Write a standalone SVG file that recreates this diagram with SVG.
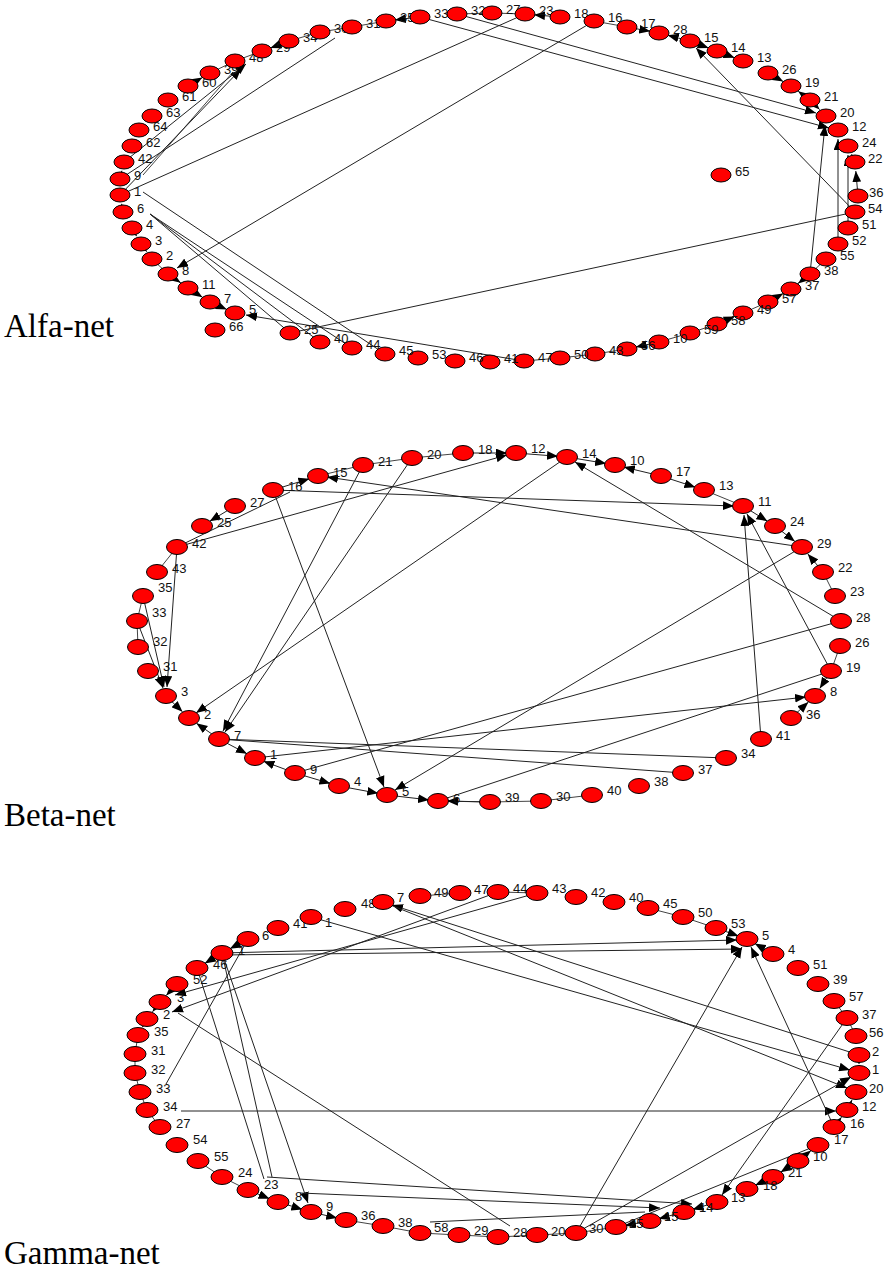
<svg xmlns="http://www.w3.org/2000/svg" width="884" height="1273" viewBox="0 0 884 1273">
<style>
.n{fill:#ff0000;stroke:#000;stroke-width:1}
.l{font-family:"Liberation Sans",Arial,sans-serif;font-size:13px;fill:#111}
.t{font-family:"Liberation Serif","Times New Roman",serif;font-size:33px;fill:#000}
.e{stroke:#222;stroke-width:1;fill:none}
.r{stroke:#444;stroke-width:1;fill:none}
.a{marker-end:url(#ah)}
</style>
<defs>
<marker id="ah" viewBox="0 0 10 8" refX="10" refY="4" markerWidth="11" markerHeight="9" markerUnits="userSpaceOnUse" orient="auto"><path d="M0,0L10,4L0,8z" fill="#000"/></marker>
</defs>
<rect width="884" height="1273" fill="#fff"/>
<text class="t" x="4" y="337">Alfa-net</text>
<text class="t" x="4" y="826">Beta-net</text>
<text class="t" x="4" y="1264">Gamma-net</text>

<g id="connectors">
<!-- Alfa -->
<line class="r" x1="352" y1="27" x2="386" y2="21"/><line class="r" x1="320" y1="32" x2="352" y2="27"/><line class="r" x1="289" y1="41" x2="320" y2="32"/>
<line class="r" x1="262" y1="51" x2="235" y2="61"/><line class="r" x1="235" y1="61" x2="210" y2="73"/><line class="r" x1="152" y1="259" x2="168" y2="274"/>
<line class="r" x1="168" y1="274" x2="188" y2="288"/><line class="r" x1="524" y1="361" x2="560" y2="358"/><line class="r" x1="560" y1="358" x2="595" y2="354"/>
<line class="r" x1="595" y1="354" x2="627" y2="349"/><line class="r" x1="690" y1="333" x2="659" y2="342"/><line class="r" x1="717" y1="324" x2="690" y2="333"/>
<line class="r" x1="743" y1="313" x2="768" y2="302"/><line class="r" x1="791" y1="289" x2="810" y2="274"/><line class="r" x1="810" y1="274" x2="826" y2="259"/>
<line class="r" x1="594" y1="21" x2="627" y2="27"/><line class="r" x1="457" y1="14" x2="492" y2="13"/><line class="r" x1="492" y1="13" x2="525" y2="14"/>
<line class="r" x1="143" y1="175" x2="233" y2="72"/>
<line class="e a" x1="457" y1="14" x2="816" y2="113"/>
<line class="e a" x1="420" y1="17" x2="829" y2="128"/>
<line class="e" x1="120" y1="195" x2="525" y2="14"/>
<line class="e a" x1="594" y1="21" x2="177" y2="268"/>
<line class="e a" x1="120" y1="195" x2="241" y2="69"/>
<line class="e a" x1="124" y1="162" x2="246" y2="64"/>
<line class="e" x1="120" y1="179" x2="335" y2="38"/>
<line class="e" x1="150" y1="214" x2="290" y2="333"/>
<line class="e" x1="150" y1="214" x2="320" y2="342"/>
<line class="e" x1="150" y1="214" x2="352" y2="348"/>
<line class="e" x1="143" y1="192" x2="385" y2="354"/>
<line class="e a" x1="524" y1="361" x2="246" y2="315"/>
<line class="e" x1="290" y1="333" x2="855" y2="212"/>
<line class="e a" x1="810" y1="274" x2="825" y2="125"/>
<line class="e a" x1="855" y1="212" x2="696" y2="48"/>
<line class="e a" x1="838" y1="244" x2="838" y2="139"/>
<line class="e a" x1="848" y1="228" x2="848" y2="155"/>
<line class="e a" x1="123" y1="212" x2="121.6" y2="203.8"/>
<line class="e a" x1="120" y1="195" x2="120" y2="188"/>
<line class="e a" x1="120" y1="179" x2="121.9" y2="170.7"/>
<line class="e a" x1="132" y1="228" x2="136.6" y2="236.2"/>
<line class="e a" x1="141" y1="244" x2="146.7" y2="251.7"/>
<line class="e a" x1="168" y1="274" x2="180.6" y2="282.8"/>
<line class="e a" x1="188" y1="288" x2="202.4" y2="297.2"/>
<line class="e a" x1="210" y1="302" x2="226.8" y2="309.4"/>
<line class="e a" x1="188" y1="86" x2="202.3" y2="77.6"/>
<line class="e a" x1="289" y1="41" x2="270.4" y2="47.9"/>
<line class="e a" x1="420" y1="17" x2="394.9" y2="19.9"/>
<line class="e a" x1="560" y1="17" x2="534" y2="14.8"/>
<line class="e a" x1="627" y1="27" x2="650.2" y2="31.3"/>
<line class="e a" x1="690" y1="41" x2="667.7" y2="35.3"/>
<line class="e a" x1="690" y1="41" x2="708.6" y2="47.9"/>
<line class="e a" x1="717" y1="51" x2="734.6" y2="57.8"/>
<line class="e a" x1="768" y1="73" x2="783.2" y2="81.6"/>
<line class="e a" x1="810" y1="100" x2="798.2" y2="91.3"/>
<line class="e a" x1="810" y1="100" x2="819.6" y2="109.6"/>
<line class="e a" x1="855" y1="162" x2="851.6" y2="154.2"/>
<line class="e a" x1="858" y1="196" x2="855.8" y2="171"/>
<line class="e a" x1="810" y1="274" x2="798.1" y2="283.4"/>
<line class="e a" x1="768" y1="302" x2="783.2" y2="293.4"/>
<line class="e a" x1="717" y1="324" x2="734.7" y2="316.5"/>
<line class="e a" x1="659" y1="342" x2="635.8" y2="347.1"/>
<!-- Beta -->
<line class="r" x1="412" y1="458" x2="463" y2="453"/><line class="r" x1="363" y1="465" x2="412" y2="458"/><line class="r" x1="318" y1="476" x2="363" y2="465"/>
<line class="r" x1="157" y1="572" x2="177" y2="547"/><line class="r" x1="137" y1="621" x2="143" y2="596"/><line class="r" x1="138" y1="647" x2="137" y2="621"/>
<line class="r" x1="704" y1="490" x2="743" y2="506"/><line class="r" x1="835" y1="596" x2="823" y2="572"/><line class="r" x1="840" y1="646" x2="831" y2="671"/>
<line class="r" x1="490" y1="802" x2="541" y2="801"/><line class="r" x1="541" y1="801" x2="592" y2="795"/><line class="r" x1="438" y1="801" x2="490" y2="802"/>
<line class="e a" x1="273" y1="490" x2="734" y2="506"/>
<line class="e a" x1="802" y1="547" x2="327" y2="477"/>
<line class="e a" x1="177" y1="547" x2="507" y2="455"/>
<line class="e" x1="177" y1="547" x2="290" y2="492"/>
<line class="e a" x1="177" y1="547" x2="167" y2="687"/>
<line class="e a" x1="143" y1="596" x2="164" y2="687"/>
<line class="e a" x1="137" y1="621" x2="163" y2="688"/>
<line class="e a" x1="363" y1="465" x2="223" y2="731"/>
<line class="e a" x1="412" y1="458" x2="225" y2="732"/>
<line class="e a" x1="273" y1="490" x2="384" y2="787"/>
<line class="e a" x1="567" y1="457" x2="196" y2="713"/>
<line class="e a" x1="841" y1="621" x2="575" y2="462"/>
<line class="e a" x1="802" y1="547" x2="395" y2="790"/>
<line class="e a" x1="761" y1="739" x2="744" y2="515"/>
<line class="e a" x1="831" y1="671" x2="747" y2="514"/>
<line class="e" x1="841" y1="621" x2="295" y2="773"/>
<line class="e a" x1="255" y1="758" x2="806" y2="697"/>
<line class="e" x1="219" y1="739" x2="726" y2="758"/>
<line class="e" x1="219" y1="739" x2="683" y2="773"/>
<line class="e" x1="831" y1="671" x2="438" y2="801"/>
<line class="e a" x1="463" y1="453" x2="507" y2="453"/>
<line class="e a" x1="516" y1="453" x2="558" y2="456.3"/>
<line class="e a" x1="567" y1="457" x2="606.1" y2="463.5"/>
<line class="e a" x1="661" y1="476" x2="623.8" y2="467.1"/>
<line class="e a" x1="661" y1="476" x2="695.4" y2="487.2"/>
<line class="e a" x1="743" y1="506" x2="767.4" y2="521.2"/>
<line class="e a" x1="775" y1="526" x2="794.9" y2="541.5"/>
<line class="e a" x1="823" y1="572" x2="807.8" y2="553.9"/>
<line class="e a" x1="831" y1="671" x2="819.8" y2="688.4"/>
<line class="e a" x1="791" y1="718" x2="808.4" y2="702.1"/>
<line class="e a" x1="273" y1="490" x2="309.4" y2="478.7"/>
<line class="e a" x1="235" y1="506" x2="209.7" y2="521.3"/>
<line class="e a" x1="166" y1="696" x2="182.5" y2="711.8"/>
<line class="e a" x1="219" y1="739" x2="196.4" y2="723.2"/>
<line class="e a" x1="219" y1="739" x2="247" y2="753.8"/>
<line class="e a" x1="295" y1="773" x2="263.4" y2="761.2"/>
<line class="e a" x1="295" y1="773" x2="330.4" y2="783.5"/>
<line class="e a" x1="339" y1="786" x2="378.2" y2="793.3"/>
<line class="e a" x1="387" y1="795" x2="429.1" y2="799.9"/>
<line class="e a" x1="490" y1="802" x2="447" y2="801"/>
<!-- Gamma -->
<line class="r" x1="420" y1="896" x2="460" y2="893"/><line class="r" x1="498" y1="892" x2="537" y2="893"/><line class="r" x1="648" y1="908" x2="683" y2="917"/>
<line class="r" x1="683" y1="917" x2="716" y2="928"/><line class="r" x1="198" y1="1161" x2="222" y2="1177"/><line class="r" x1="222" y1="1177" x2="248" y2="1190"/>
<line class="r" x1="346" y1="1220" x2="383" y2="1226"/><line class="r" x1="383" y1="1226" x2="420" y2="1233"/><line class="r" x1="420" y1="1233" x2="459" y2="1235"/>
<line class="r" x1="459" y1="1235" x2="498" y2="1237"/><line class="r" x1="498" y1="1237" x2="537" y2="1235"/><line class="r" x1="537" y1="1235" x2="576" y2="1233"/>
<line class="r" x1="576" y1="1233" x2="616" y2="1227"/><line class="r" x1="834" y1="1001" x2="847" y2="1018"/><line class="r" x1="847" y1="1018" x2="856" y2="1036"/>
<line class="r" x1="135" y1="1054" x2="135" y2="1073"/><line class="r" x1="135" y1="1073" x2="140" y2="1092"/><line class="r" x1="140" y1="1092" x2="147" y2="1110"/>
<line class="r" x1="147" y1="1110" x2="160" y2="1127"/><line class="r" x1="138" y1="1035" x2="135" y2="1054"/>
<line class="e a" x1="222" y1="953" x2="737" y2="940"/>
<line class="e a" x1="222" y1="955" x2="742" y2="949"/>
<line class="e a" x1="859" y1="1055" x2="392" y2="905"/>
<line class="e a" x1="383" y1="902" x2="847" y2="1088"/>
<line class="e a" x1="311" y1="917" x2="850" y2="1070"/>
<line class="e a" x1="181" y1="1111" x2="836" y2="1111"/>
<line class="e" x1="197" y1="968" x2="264" y2="1179"/>
<line class="e" x1="222" y1="953" x2="272" y2="1177"/>
<line class="e a" x1="222" y1="953" x2="308" y2="1203"/>
<line class="e" x1="248" y1="939" x2="166" y2="1084"/>
<line class="e a" x1="498" y1="892" x2="172" y2="1012"/>
<line class="e a" x1="537" y1="893" x2="175" y2="995"/>
<line class="e" x1="178" y1="1013" x2="510" y2="1226"/>
<line class="e a" x1="576" y1="1233" x2="742" y2="947"/>
<line class="e a" x1="834" y1="1127" x2="751" y2="947"/>
<line class="e a" x1="847" y1="1018" x2="722" y2="1195"/>
<line class="e a" x1="576" y1="1233" x2="851" y2="1077"/>
<line class="e" x1="616" y1="1227" x2="818" y2="1145"/>
<line class="e a" x1="300" y1="1193" x2="660" y2="1208"/>
<line class="e a" x1="267" y1="1177" x2="692" y2="1204"/>
<line class="e" x1="430" y1="1222" x2="645" y2="1212"/>
<line class="e a" x1="248" y1="1190" x2="269.6" y2="1198.7"/>
<line class="e a" x1="278" y1="1202" x2="302.4" y2="1209.4"/>
<line class="e a" x1="311" y1="1212" x2="337.2" y2="1218"/>
<line class="e a" x1="650" y1="1221" x2="624.9" y2="1225.4"/>
<line class="e a" x1="684" y1="1212" x2="658.7" y2="1218.7"/>
<line class="e a" x1="717" y1="1202" x2="692.6" y2="1209.4"/>
<line class="e a" x1="773" y1="1177" x2="755.2" y2="1185.2"/>
<line class="e a" x1="798" y1="1161" x2="780.6" y2="1172.2"/>
<line class="e a" x1="798" y1="1161" x2="811" y2="1150.6"/>
<line class="e a" x1="773" y1="954" x2="754.8" y2="943.5"/>
<line class="e a" x1="716" y1="928" x2="738.5" y2="936"/>
<line class="e a" x1="248" y1="939" x2="229.9" y2="948.7"/>
<line class="e a" x1="222" y1="953" x2="204.7" y2="963.4"/>
<line class="e a" x1="177" y1="984" x2="166.2" y2="995.5"/>
<line class="e a" x1="160" y1="1002" x2="152.5" y2="1011.8"/>
<line class="e a" x1="147" y1="1019" x2="142.4" y2="1027.2"/>
<line class="e a" x1="834" y1="1127" x2="841.5" y2="1117.2"/>
<line class="e a" x1="847" y1="1110" x2="852" y2="1100"/>
<line class="e a" x1="859" y1="1055" x2="859" y2="1064"/>
</g>

<g id="alfa-nodes">
<g id="a66"><ellipse class="n" cx="215" cy="330" rx="10" ry="7"/><text class="l" x="229" y="331">66</text></g>
<g id="a5"><ellipse class="n" cx="235" cy="313" rx="10" ry="7"/><text class="l" x="249" y="314">5</text></g>
<g id="a7"><ellipse class="n" cx="210" cy="302" rx="10" ry="7"/><text class="l" x="224" y="303">7</text></g>
<g id="a11"><ellipse class="n" cx="188" cy="288" rx="10" ry="7"/><text class="l" x="202" y="289">11</text></g>
<g id="a8"><ellipse class="n" cx="168" cy="274" rx="10" ry="7"/><text class="l" x="182" y="275">8</text></g>
<g id="a2"><ellipse class="n" cx="152" cy="259" rx="10" ry="7"/><text class="l" x="166" y="260">2</text></g>
<g id="a3"><ellipse class="n" cx="141" cy="244" rx="10" ry="7"/><text class="l" x="155" y="245">3</text></g>
<g id="a4"><ellipse class="n" cx="132" cy="228" rx="10" ry="7"/><text class="l" x="146" y="229">4</text></g>
<g id="a6"><ellipse class="n" cx="123" cy="212" rx="10" ry="7"/><text class="l" x="137" y="213">6</text></g>
<g id="a1"><ellipse class="n" cx="120" cy="195" rx="10" ry="7"/><text class="l" x="134" y="196">1</text></g>
<g id="a9"><ellipse class="n" cx="120" cy="179" rx="10" ry="7"/><text class="l" x="134" y="180">9</text></g>
<g id="a42"><ellipse class="n" cx="124" cy="162" rx="10" ry="7"/><text class="l" x="138" y="163">42</text></g>
<g id="a62"><ellipse class="n" cx="132" cy="146" rx="10" ry="7"/><text class="l" x="146" y="147">62</text></g>
<g id="a64"><ellipse class="n" cx="139" cy="130" rx="10" ry="7"/><text class="l" x="153" y="131">64</text></g>
<g id="a63"><ellipse class="n" cx="152" cy="116" rx="10" ry="7"/><text class="l" x="166" y="117">63</text></g>
<g id="a61"><ellipse class="n" cx="168" cy="100" rx="10" ry="7"/><text class="l" x="182" y="101">61</text></g>
<g id="a60"><ellipse class="n" cx="188" cy="86" rx="10" ry="7"/><text class="l" x="202" y="87">60</text></g>
<g id="a39"><ellipse class="n" cx="210" cy="73" rx="10" ry="7"/><text class="l" x="224" y="74">39</text></g>
<g id="a48"><ellipse class="n" cx="235" cy="61" rx="10" ry="7"/><text class="l" x="249" y="62">48</text></g>
<g id="a29"><ellipse class="n" cx="262" cy="51" rx="10" ry="7"/><text class="l" x="276" y="52">29</text></g>
<g id="a34"><ellipse class="n" cx="289" cy="41" rx="10" ry="7"/><text class="l" x="303" y="42">34</text></g>
<g id="a30"><ellipse class="n" cx="320" cy="32" rx="10" ry="7"/><text class="l" x="334" y="33">30</text></g>
<g id="a31"><ellipse class="n" cx="352" cy="27" rx="10" ry="7"/><text class="l" x="366" y="28">31</text></g>
<g id="a35"><ellipse class="n" cx="386" cy="21" rx="10" ry="7"/><text class="l" x="400" y="22">35</text></g>
<g id="a33"><ellipse class="n" cx="420" cy="17" rx="10" ry="7"/><text class="l" x="434" y="18">33</text></g>
<g id="a32"><ellipse class="n" cx="457" cy="14" rx="10" ry="7"/><text class="l" x="471" y="15">32</text></g>
<g id="a27"><ellipse class="n" cx="492" cy="13" rx="10" ry="7"/><text class="l" x="506" y="14">27</text></g>
<g id="a23"><ellipse class="n" cx="525" cy="14" rx="10" ry="7"/><text class="l" x="539" y="15">23</text></g>
<g id="a18"><ellipse class="n" cx="560" cy="17" rx="10" ry="7"/><text class="l" x="574" y="18">18</text></g>
<g id="a16"><ellipse class="n" cx="594" cy="21" rx="10" ry="7"/><text class="l" x="608" y="22">16</text></g>
<g id="a17"><ellipse class="n" cx="627" cy="27" rx="10" ry="7"/><text class="l" x="641" y="28">17</text></g>
<g id="a28"><ellipse class="n" cx="659" cy="33" rx="10" ry="7"/><text class="l" x="673" y="34">28</text></g>
<g id="a15"><ellipse class="n" cx="690" cy="41" rx="10" ry="7"/><text class="l" x="704" y="42">15</text></g>
<g id="a14"><ellipse class="n" cx="717" cy="51" rx="10" ry="7"/><text class="l" x="731" y="52">14</text></g>
<g id="a13"><ellipse class="n" cx="743" cy="61" rx="10" ry="7"/><text class="l" x="757" y="62">13</text></g>
<g id="a26"><ellipse class="n" cx="768" cy="73" rx="10" ry="7"/><text class="l" x="782" y="74">26</text></g>
<g id="a19"><ellipse class="n" cx="791" cy="86" rx="10" ry="7"/><text class="l" x="805" y="87">19</text></g>
<g id="a21"><ellipse class="n" cx="810" cy="100" rx="10" ry="7"/><text class="l" x="824" y="101">21</text></g>
<g id="a20"><ellipse class="n" cx="826" cy="116" rx="10" ry="7"/><text class="l" x="840" y="117">20</text></g>
<g id="a12"><ellipse class="n" cx="838" cy="130" rx="10" ry="7"/><text class="l" x="852" y="131">12</text></g>
<g id="a24"><ellipse class="n" cx="848" cy="146" rx="10" ry="7"/><text class="l" x="862" y="147">24</text></g>
<g id="a22"><ellipse class="n" cx="855" cy="162" rx="10" ry="7"/><text class="l" x="868" y="163">22</text></g>
<g id="a36"><ellipse class="n" cx="858" cy="196" rx="10" ry="7"/><text class="l" x="869" y="197">36</text></g>
<g id="a54"><ellipse class="n" cx="855" cy="212" rx="10" ry="7"/><text class="l" x="868" y="213">54</text></g>
<g id="a51"><ellipse class="n" cx="848" cy="228" rx="10" ry="7"/><text class="l" x="862" y="229">51</text></g>
<g id="a52"><ellipse class="n" cx="838" cy="244" rx="10" ry="7"/><text class="l" x="852" y="245">52</text></g>
<g id="a55"><ellipse class="n" cx="826" cy="259" rx="10" ry="7"/><text class="l" x="840" y="260">55</text></g>
<g id="a38"><ellipse class="n" cx="810" cy="274" rx="10" ry="7"/><text class="l" x="824" y="275">38</text></g>
<g id="a37"><ellipse class="n" cx="791" cy="289" rx="10" ry="7"/><text class="l" x="805" y="290">37</text></g>
<g id="a57"><ellipse class="n" cx="768" cy="302" rx="10" ry="7"/><text class="l" x="782" y="303">57</text></g>
<g id="a49"><ellipse class="n" cx="743" cy="313" rx="10" ry="7"/><text class="l" x="757" y="314">49</text></g>
<g id="a58"><ellipse class="n" cx="717" cy="324" rx="10" ry="7"/><text class="l" x="731" y="325">58</text></g>
<g id="a59"><ellipse class="n" cx="690" cy="333" rx="10" ry="7"/><text class="l" x="704" y="334">59</text></g>
<g id="a10"><ellipse class="n" cx="659" cy="342" rx="10" ry="7"/><text class="l" x="673" y="343">10</text></g>
<g id="a56"><ellipse class="n" cx="627" cy="349" rx="10" ry="7"/><text class="l" x="641" y="350">56</text></g>
<g id="a43"><ellipse class="n" cx="595" cy="354" rx="10" ry="7"/><text class="l" x="609" y="355">43</text></g>
<g id="a50"><ellipse class="n" cx="560" cy="358" rx="10" ry="7"/><text class="l" x="574" y="359">50</text></g>
<g id="a47"><ellipse class="n" cx="524" cy="361" rx="10" ry="7"/><text class="l" x="538" y="362">47</text></g>
<g id="a41"><ellipse class="n" cx="490" cy="362" rx="10" ry="7"/><text class="l" x="504" y="363">41</text></g>
<g id="a46"><ellipse class="n" cx="455" cy="361" rx="10" ry="7"/><text class="l" x="469" y="362">46</text></g>
<g id="a53"><ellipse class="n" cx="418" cy="358" rx="10" ry="7"/><text class="l" x="432" y="359">53</text></g>
<g id="a45"><ellipse class="n" cx="385" cy="354" rx="10" ry="7"/><text class="l" x="399" y="355">45</text></g>
<g id="a44"><ellipse class="n" cx="352" cy="348" rx="10" ry="7"/><text class="l" x="366" y="349">44</text></g>
<g id="a40"><ellipse class="n" cx="320" cy="342" rx="10" ry="7"/><text class="l" x="334" y="343">40</text></g>
<g id="a25"><ellipse class="n" cx="290" cy="333" rx="10" ry="7"/><text class="l" x="304" y="334">25</text></g>
<g id="a65"><ellipse class="n" cx="721" cy="175" rx="10" ry="7"/><text class="l" x="735" y="176">65</text></g>
</g>

<g id="beta-nodes">
<g id="b18"><ellipse class="n" cx="463" cy="453" rx="10.5" ry="7.5"/><text class="l" x="478" y="454">18</text></g>
<g id="b20"><ellipse class="n" cx="412" cy="458" rx="10.5" ry="7.5"/><text class="l" x="427" y="459">20</text></g>
<g id="b21"><ellipse class="n" cx="363" cy="465" rx="10.5" ry="7.5"/><text class="l" x="378" y="466">21</text></g>
<g id="b15"><ellipse class="n" cx="318" cy="476" rx="10.5" ry="7.5"/><text class="l" x="333" y="477">15</text></g>
<g id="b16"><ellipse class="n" cx="273" cy="490" rx="10.5" ry="7.5"/><text class="l" x="288" y="491">16</text></g>
<g id="b27"><ellipse class="n" cx="235" cy="506" rx="10.5" ry="7.5"/><text class="l" x="250" y="507">27</text></g>
<g id="b25"><ellipse class="n" cx="202" cy="526" rx="10.5" ry="7.5"/><text class="l" x="217" y="527">25</text></g>
<g id="b42"><ellipse class="n" cx="177" cy="547" rx="10.5" ry="7.5"/><text class="l" x="192" y="548">42</text></g>
<g id="b43"><ellipse class="n" cx="157" cy="572" rx="10.5" ry="7.5"/><text class="l" x="172" y="573">43</text></g>
<g id="b35"><ellipse class="n" cx="143" cy="596" rx="10.5" ry="7.5"/><text class="l" x="158" y="592">35</text></g>
<g id="b33"><ellipse class="n" cx="137" cy="621" rx="10.5" ry="7.5"/><text class="l" x="152" y="617">33</text></g>
<g id="b32"><ellipse class="n" cx="138" cy="647" rx="10.5" ry="7.5"/><text class="l" x="153" y="646">32</text></g>
<g id="b31"><ellipse class="n" cx="148" cy="671" rx="10.5" ry="7.5"/><text class="l" x="163" y="671">31</text></g>
<g id="b3"><ellipse class="n" cx="166" cy="696" rx="10.5" ry="7.5"/><text class="l" x="181" y="696">3</text></g>
<g id="b2"><ellipse class="n" cx="189" cy="718" rx="10.5" ry="7.5"/><text class="l" x="204" y="719">2</text></g>
<g id="b7"><ellipse class="n" cx="219" cy="739" rx="10.5" ry="7.5"/><text class="l" x="234" y="740">7</text></g>
<g id="b1"><ellipse class="n" cx="255" cy="758" rx="10.5" ry="7.5"/><text class="l" x="270" y="759">1</text></g>
<g id="b9"><ellipse class="n" cx="295" cy="773" rx="10.5" ry="7.5"/><text class="l" x="310" y="774">9</text></g>
<g id="b4"><ellipse class="n" cx="339" cy="786" rx="10.5" ry="7.5"/><text class="l" x="354" y="786">4</text></g>
<g id="b5"><ellipse class="n" cx="387" cy="795" rx="10.5" ry="7.5"/><text class="l" x="402" y="796">5</text></g>
<g id="b6"><ellipse class="n" cx="438" cy="801" rx="10.5" ry="7.5"/><text class="l" x="453" y="803">6</text></g>
<g id="b39"><ellipse class="n" cx="490" cy="802" rx="10.5" ry="7.5"/><text class="l" x="505" y="802">39</text></g>
<g id="b30"><ellipse class="n" cx="541" cy="801" rx="10.5" ry="7.5"/><text class="l" x="556" y="801">30</text></g>
<g id="b40"><ellipse class="n" cx="592" cy="795" rx="10.5" ry="7.5"/><text class="l" x="607" y="795">40</text></g>
<g id="b38"><ellipse class="n" cx="639" cy="786" rx="10.5" ry="7.5"/><text class="l" x="654" y="786">38</text></g>
<g id="b37"><ellipse class="n" cx="683" cy="773" rx="10.5" ry="7.5"/><text class="l" x="698" y="774">37</text></g>
<g id="b34"><ellipse class="n" cx="726" cy="758" rx="10.5" ry="7.5"/><text class="l" x="741" y="758">34</text></g>
<g id="b41"><ellipse class="n" cx="761" cy="739" rx="10.5" ry="7.5"/><text class="l" x="776" y="740">41</text></g>
<g id="b36"><ellipse class="n" cx="791" cy="718" rx="10.5" ry="7.5"/><text class="l" x="806" y="719">36</text></g>
<g id="b8"><ellipse class="n" cx="815" cy="696" rx="10.5" ry="7.5"/><text class="l" x="830" y="696">8</text></g>
<g id="b19"><ellipse class="n" cx="831" cy="671" rx="10.5" ry="7.5"/><text class="l" x="846" y="672">19</text></g>
<g id="b26"><ellipse class="n" cx="840" cy="646" rx="10.5" ry="7.5"/><text class="l" x="855" y="647">26</text></g>
<g id="b28"><ellipse class="n" cx="841" cy="621" rx="10.5" ry="7.5"/><text class="l" x="856" y="622">28</text></g>
<g id="b23"><ellipse class="n" cx="835" cy="596" rx="10.5" ry="7.5"/><text class="l" x="850" y="596">23</text></g>
<g id="b22"><ellipse class="n" cx="823" cy="572" rx="10.5" ry="7.5"/><text class="l" x="838" y="572">22</text></g>
<g id="b29"><ellipse class="n" cx="802" cy="547" rx="10.5" ry="7.5"/><text class="l" x="817" y="548">29</text></g>
<g id="b24"><ellipse class="n" cx="775" cy="526" rx="10.5" ry="7.5"/><text class="l" x="790" y="526">24</text></g>
<g id="b11"><ellipse class="n" cx="743" cy="506" rx="10.5" ry="7.5"/><text class="l" x="758" y="506">11</text></g>
<g id="b13"><ellipse class="n" cx="704" cy="490" rx="10.5" ry="7.5"/><text class="l" x="719" y="490">13</text></g>
<g id="b17"><ellipse class="n" cx="661" cy="476" rx="10.5" ry="7.5"/><text class="l" x="676" y="476">17</text></g>
<g id="b10"><ellipse class="n" cx="615" cy="465" rx="10.5" ry="7.5"/><text class="l" x="630" y="465">10</text></g>
<g id="b14"><ellipse class="n" cx="567" cy="457" rx="10.5" ry="7.5"/><text class="l" x="582" y="458">14</text></g>
<g id="b12"><ellipse class="n" cx="516" cy="453" rx="10.5" ry="7.5"/><text class="l" x="531" y="453">12</text></g>
</g>

<g id="gamma-nodes">
<g id="g44"><ellipse class="n" cx="498" cy="892" rx="11" ry="7.5"/><text class="l" x="513" y="893">44</text></g>
<g id="g43"><ellipse class="n" cx="537" cy="893" rx="11" ry="7.5"/><text class="l" x="552" y="893">43</text></g>
<g id="g42"><ellipse class="n" cx="576" cy="897" rx="11" ry="7.5"/><text class="l" x="591" y="897">42</text></g>
<g id="g40"><ellipse class="n" cx="614" cy="902" rx="11" ry="7.5"/><text class="l" x="629" y="902">40</text></g>
<g id="g45"><ellipse class="n" cx="648" cy="908" rx="11" ry="7.5"/><text class="l" x="663" y="908">45</text></g>
<g id="g50"><ellipse class="n" cx="683" cy="917" rx="11" ry="7.5"/><text class="l" x="698" y="917">50</text></g>
<g id="g53"><ellipse class="n" cx="716" cy="928" rx="11" ry="7.5"/><text class="l" x="731" y="928">53</text></g>
<g id="g5"><ellipse class="n" cx="747" cy="939" rx="11" ry="7.5"/><text class="l" x="762" y="940">5</text></g>
<g id="g4"><ellipse class="n" cx="773" cy="954" rx="11" ry="7.5"/><text class="l" x="788" y="954">4</text></g>
<g id="g51"><ellipse class="n" cx="798" cy="968" rx="11" ry="7.5"/><text class="l" x="813" y="969">51</text></g>
<g id="g39"><ellipse class="n" cx="818" cy="984" rx="11" ry="7.5"/><text class="l" x="833" y="984">39</text></g>
<g id="g57"><ellipse class="n" cx="834" cy="1001" rx="11" ry="7.5"/><text class="l" x="849" y="1001">57</text></g>
<g id="g37"><ellipse class="n" cx="847" cy="1018" rx="11" ry="7.5"/><text class="l" x="862" y="1019">37</text></g>
<g id="g56"><ellipse class="n" cx="856" cy="1036" rx="11" ry="7.5"/><text class="l" x="869" y="1037">56</text></g>
<g id="g22"><ellipse class="n" cx="859" cy="1055" rx="11" ry="7.5"/><text class="l" x="872" y="1056">2</text></g>
<g id="g19"><ellipse class="n" cx="859" cy="1073" rx="11" ry="7.5"/><text class="l" x="872" y="1074">1</text></g>
<g id="g20"><ellipse class="n" cx="856" cy="1092" rx="11" ry="7.5"/><text class="l" x="869" y="1093">20</text></g>
<g id="g12"><ellipse class="n" cx="847" cy="1110" rx="11" ry="7.5"/><text class="l" x="862" y="1111">12</text></g>
<g id="g16"><ellipse class="n" cx="834" cy="1127" rx="11" ry="7.5"/><text class="l" x="850" y="1128">16</text></g>
<g id="g17"><ellipse class="n" cx="818" cy="1145" rx="11" ry="7.5"/><text class="l" x="834" y="1144">17</text></g>
<g id="g10"><ellipse class="n" cx="798" cy="1161" rx="11" ry="7.5"/><text class="l" x="813" y="1161">10</text></g>
<g id="g21"><ellipse class="n" cx="773" cy="1177" rx="11" ry="7.5"/><text class="l" x="788" y="1177">21</text></g>
<g id="g18"><ellipse class="n" cx="747" cy="1189" rx="11" ry="7.5"/><text class="l" x="763" y="1190">18</text></g>
<g id="g13"><ellipse class="n" cx="717" cy="1202" rx="11" ry="7.5"/><text class="l" x="731" y="1202">13</text></g>
<g id="g14"><ellipse class="n" cx="684" cy="1212" rx="11" ry="7.5"/><text class="l" x="699" y="1212">14</text></g>
<g id="g15"><ellipse class="n" cx="650" cy="1221" rx="11" ry="7.5"/><text class="l" x="664" y="1221">15</text></g>
<g id="g25"><ellipse class="n" cx="616" cy="1227" rx="11" ry="7.5"/><text class="l" x="629" y="1228">25</text></g>
<g id="g30"><ellipse class="n" cx="576" cy="1233" rx="11" ry="7.5"/><text class="l" x="589" y="1233">30</text></g>
<g id="g26"><ellipse class="n" cx="537" cy="1235" rx="11" ry="7.5"/><text class="l" x="551" y="1236">20</text></g>
<g id="g28"><ellipse class="n" cx="498" cy="1237" rx="11" ry="7.5"/><text class="l" x="513" y="1237">28</text></g>
<g id="g29"><ellipse class="n" cx="459" cy="1235" rx="11" ry="7.5"/><text class="l" x="474" y="1235">29</text></g>
<g id="g58"><ellipse class="n" cx="420" cy="1233" rx="11" ry="7.5"/><text class="l" x="434" y="1232">58</text></g>
<g id="g38"><ellipse class="n" cx="383" cy="1226" rx="11" ry="7.5"/><text class="l" x="398" y="1227">38</text></g>
<g id="g36"><ellipse class="n" cx="346" cy="1220" rx="11" ry="7.5"/><text class="l" x="361" y="1220">36</text></g>
<g id="g9"><ellipse class="n" cx="311" cy="1212" rx="11" ry="7.5"/><text class="l" x="326" y="1211">9</text></g>
<g id="g8"><ellipse class="n" cx="278" cy="1202" rx="11" ry="7.5"/><text class="l" x="295" y="1201">8</text></g>
<g id="g23"><ellipse class="n" cx="248" cy="1190" rx="11" ry="7.5"/><text class="l" x="264" y="1189">23</text></g>
<g id="g24"><ellipse class="n" cx="222" cy="1177" rx="11" ry="7.5"/><text class="l" x="238" y="1177">24</text></g>
<g id="g55"><ellipse class="n" cx="198" cy="1161" rx="11" ry="7.5"/><text class="l" x="214" y="1161">55</text></g>
<g id="g54"><ellipse class="n" cx="177" cy="1145" rx="11" ry="7.5"/><text class="l" x="193" y="1144">54</text></g>
<g id="g27"><ellipse class="n" cx="160" cy="1127" rx="11" ry="7.5"/><text class="l" x="176" y="1128">27</text></g>
<g id="g34"><ellipse class="n" cx="147" cy="1110" rx="11" ry="7.5"/><text class="l" x="163" y="1111">34</text></g>
<g id="g33"><ellipse class="n" cx="140" cy="1092" rx="11" ry="7.5"/><text class="l" x="156" y="1093">33</text></g>
<g id="g32"><ellipse class="n" cx="135" cy="1073" rx="11" ry="7.5"/><text class="l" x="151" y="1074">32</text></g>
<g id="g31"><ellipse class="n" cx="135" cy="1054" rx="11" ry="7.5"/><text class="l" x="151" y="1055">31</text></g>
<g id="g35"><ellipse class="n" cx="138" cy="1035" rx="11" ry="7.5"/><text class="l" x="154" y="1036">35</text></g>
<g id="g2"><ellipse class="n" cx="147" cy="1019" rx="11" ry="7.5"/><text class="l" x="163" y="1019">2</text></g>
<g id="g3"><ellipse class="n" cx="160" cy="1002" rx="11" ry="7.5"/><text class="l" x="177" y="1002">3</text></g>
<g id="g52"><ellipse class="n" cx="177" cy="984" rx="11" ry="7.5"/><text class="l" x="193" y="984">52</text></g>
<g id="g46"><ellipse class="n" cx="197" cy="968" rx="11" ry="7.5"/><text class="l" x="213" y="969">46</text></g>
<g id="g1"><ellipse class="n" cx="222" cy="953" rx="11" ry="7.5"/><text class="l" x="238" y="955">1</text></g>
<g id="g6"><ellipse class="n" cx="248" cy="939" rx="11" ry="7.5"/><text class="l" x="262" y="940">6</text></g>
<g id="g41"><ellipse class="n" cx="278" cy="928" rx="11" ry="7.5"/><text class="l" x="293" y="928">41</text></g>
<g id="g11"><ellipse class="n" cx="311" cy="917" rx="11" ry="7.5"/><text class="l" x="325" y="927">1</text></g>
<g id="g48"><ellipse class="n" cx="345" cy="909" rx="11" ry="7.5"/><text class="l" x="361" y="908">48</text></g>
<g id="g7"><ellipse class="n" cx="383" cy="902" rx="11" ry="7.5"/><text class="l" x="397" y="902">7</text></g>
<g id="g49"><ellipse class="n" cx="420" cy="896" rx="11" ry="7.5"/><text class="l" x="434" y="897">49</text></g>
<g id="g47"><ellipse class="n" cx="460" cy="893" rx="11" ry="7.5"/><text class="l" x="474" y="894">47</text></g>
</g>
</svg>
